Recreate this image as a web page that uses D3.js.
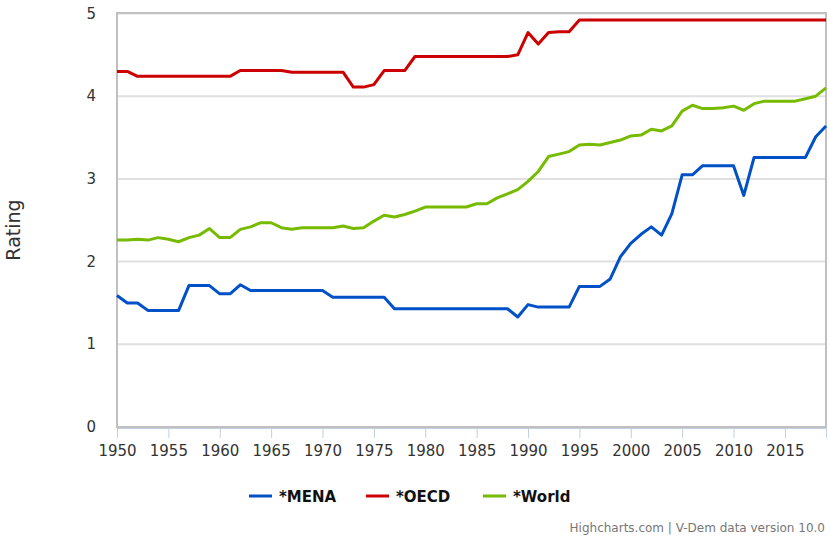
<!DOCTYPE html>
<html>
<head>
  <meta charset="utf-8">
  <script src="https://d3js.org/d3.v7.min.js"></script>
  <style>
    body { margin: 0; background: #fff; }
    text { font-family: "DejaVu Sans", sans-serif; }
  </style>
</head>
<body>
<script>
  // Rating by year
  var years = d3.range(1950, 2020);

  var mena = [1.59, 1.50, 1.50, 1.41, 1.41, 1.41, 1.41, 1.71, 1.71, 1.71,
              1.61, 1.61, 1.72, 1.65, 1.65, 1.65, 1.65, 1.65, 1.65, 1.65,
              1.65, 1.57, 1.57, 1.57, 1.57, 1.57, 1.57, 1.43, 1.43, 1.43,
              1.43, 1.43, 1.43, 1.43, 1.43, 1.43, 1.43, 1.43, 1.43, 1.33,
              1.48, 1.45, 1.45, 1.45, 1.45, 1.70, 1.70, 1.70, 1.79, 2.06,
              2.22, 2.33, 2.42, 2.32, 2.58, 3.05, 3.05, 3.16, 3.16, 3.16,
              3.16, 2.80, 3.26, 3.26, 3.26, 3.26, 3.26, 3.26, 3.51, 3.64];

  var oecd = [4.30, 4.30, 4.24, 4.24, 4.24, 4.24, 4.24, 4.24, 4.24, 4.24,
              4.24, 4.24, 4.31, 4.31, 4.31, 4.31, 4.31, 4.29, 4.29, 4.29,
              4.29, 4.29, 4.29, 4.11, 4.11, 4.14, 4.31, 4.31, 4.31, 4.48,
              4.48, 4.48, 4.48, 4.48, 4.48, 4.48, 4.48, 4.48, 4.48, 4.50,
              4.77, 4.63, 4.77, 4.78, 4.78, 4.92, 4.92, 4.92, 4.92, 4.92,
              4.92, 4.92, 4.92, 4.92, 4.92, 4.92, 4.92, 4.92, 4.92, 4.92,
              4.92, 4.92, 4.92, 4.92, 4.92, 4.92, 4.92, 4.92, 4.92, 4.92];

  var world = [2.26, 2.26, 2.27, 2.26, 2.29, 2.27, 2.24, 2.29, 2.32, 2.40,
               2.29, 2.29, 2.39, 2.42, 2.47, 2.47, 2.41, 2.39, 2.41, 2.41,
               2.41, 2.41, 2.43, 2.40, 2.41, 2.49, 2.56, 2.54, 2.57, 2.61,
               2.66, 2.66, 2.66, 2.66, 2.66, 2.70, 2.70, 2.77, 2.82, 2.87,
               2.97, 3.09, 3.27, 3.30, 3.33, 3.41, 3.42, 3.41, 3.44, 3.47,
               3.52, 3.53, 3.60, 3.58, 3.64, 3.82, 3.89, 3.85, 3.85, 3.86,
               3.88, 3.83, 3.91, 3.94, 3.94, 3.94, 3.94, 3.97, 4.00, 4.10];

  var seriesNames = ["*MENA", "*OECD", "*World"];
  var seriesColors = ["#0050c8", "#cc0000", "#77bb00"];
  var xTicks = d3.range(1950, 2020, 5);
  var yTicks = [0, 1, 2, 3, 4, 5];

  var width = 830, height = 537;
  var plotLeft = 117, plotRight = 826, plotTop = 13.5, plotBottom = 427;

  var svg = d3.select("body").append("svg")
      .attr("width", width)
      .attr("height", height);

  var x = d3.scaleLinear().domain([1950, 2019]).range([plotLeft, plotRight]);
  var y = d3.scaleLinear().domain([0, 5]).range([plotBottom, plotTop]);

  // grid lines
  svg.append("g").selectAll("line")
    .data(yTicks)
    .enter().append("line")
      .attr("x1", plotLeft).attr("x2", plotRight)
      .attr("y1", function (d) { return y(d); })
      .attr("y2", function (d) { return y(d); })
      .attr("stroke", "#e0e0e0")
      .attr("stroke-width", 2);

  // y labels
  svg.append("g").selectAll("text")
    .data(yTicks)
    .enter().append("text")
      .attr("x", 96)
      .attr("y", function (d) { return y(d) + 5; })
      .attr("text-anchor", "end")
      .style("font-size", "15px")
      .style("fill", "#333")
      .text(function (d) { return d; });

  // x axis
  var xAxis = svg.append("g")
      .attr("transform", "translate(0," + (plotBottom + 1) + ")")
      .call(d3.axisBottom(x).tickValues(xTicks).tickFormat(d3.format("d")).tickSize(10).tickPadding(7));
  xAxis.select(".domain").attr("stroke", "#c0d0e0").attr("stroke-width", 1);
  xAxis.selectAll(".tick line").attr("stroke", "#c0d0e0");
  xAxis.selectAll(".tick text")
      .style("font-size", "15px")
      .style("font-family", "DejaVu Sans, sans-serif")
      .style("fill", "#333");

  // plot border
  svg.append("rect")
      .attr("x", plotLeft).attr("y", plotTop - 0.5)
      .attr("width", plotRight - plotLeft).attr("height", plotBottom - plotTop + 0.5)
      .attr("fill", "none")
      .attr("stroke", "#c0c0c0")
      .attr("stroke-width", 2);

  // y title
  svg.append("text")
      .attr("transform", "translate(20,230) rotate(-90)")
      .attr("text-anchor", "middle")
      .style("font-size", "19px")
      .style("fill", "#333")
      .text("Rating");

  // lines
  var line = d3.line()
      .x(function (d, i) { return x(years[i]); })
      .y(function (d) { return y(d); });

  [mena, oecd, world].forEach(function (s, i) {
    svg.append("path")
        .datum(s)
        .attr("d", line)
        .attr("fill", "none")
        .attr("stroke", seriesColors[i])
        .attr("stroke-width", 3)
        .attr("stroke-linejoin", "round");
  });

  // legend
  var legendX = [249, 366, 483];
  var legend = svg.append("g").selectAll("g")
    .data(seriesNames)
    .enter().append("g")
      .attr("transform", function (d, i) { return "translate(" + legendX[i] + ",496)"; });
  legend.append("line")
      .attr("x1", 0).attr("x2", 23)
      .attr("stroke", function (d, i) { return seriesColors[i]; })
      .attr("stroke-width", 3);
  legend.append("text")
      .attr("x", 30).attr("y", 6)
      .style("font-size", "15px")
      .style("font-weight", "bold")
      .style("fill", "#111")
      .text(function (d) { return d; });

  // credits
  svg.append("text")
      .attr("x", 825).attr("y", 532)
      .attr("text-anchor", "end")
      .style("font-size", "12px")
      .style("fill", "#777")
      .text("Highcharts.com | V-Dem data version 10.0");
</script>
</body>
</html>
